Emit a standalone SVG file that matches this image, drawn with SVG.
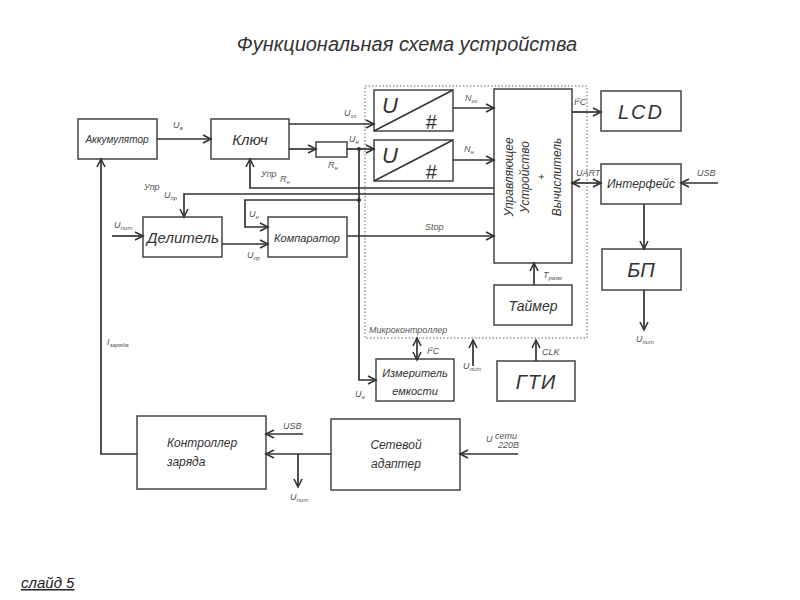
<svg xmlns="http://www.w3.org/2000/svg" width="800" height="600" viewBox="0 0 800 600">
<defs>
<marker id="ar" markerUnits="userSpaceOnUse" markerWidth="12" markerHeight="12" refX="9" refY="5" orient="auto-start-reverse">
<path d="M1,1 L9,5 L1,9" fill="none" stroke="#333" stroke-width="1.6"/>
</marker>
</defs>
<style>
.box{fill:#fff;stroke:#444;stroke-width:1.5}
.t{font-family:"Liberation Sans",Arial,sans-serif;font-style:italic;fill:#333;text-anchor:middle}
.lbl{font-family:"Liberation Sans",Arial,sans-serif;font-style:italic;fill:#555;font-size:9px}
.sub{font-size:6px}
.c{fill:none;stroke:#333;stroke-width:1.7}
.a{marker-end:url(#ar)}
.d{marker-start:url(#ar);marker-end:url(#ar)}
</style>
<rect width="800" height="600" fill="#fff"/>
<text x="407" y="51" class="t" font-size="20">Функциональная схема устройства</text>
<text x="21" y="588" font-family="Liberation Sans,Arial,sans-serif" font-style="italic" font-size="15" fill="#222" text-decoration="underline">слайд 5</text>

<rect id="mc" x="365" y="86" width="222" height="252" fill="none" stroke="#999" stroke-width="1.5" stroke-dasharray="1.5,2"/>
<text x="369" y="333" class="lbl" font-size="10">Микроконтроллер</text>

<g id="akk"><rect class="box" x="78" y="119" width="79" height="40"/><text class="t" x="117" y="143" font-size="10">Аккумулятор</text></g>
<g id="key"><rect class="box" x="211" y="119" width="78" height="40"/><text class="t" x="250" y="145" font-size="15">Ключ</text></g>
<g id="rn"><rect class="box" x="316" y="142" width="31" height="15"/></g>
<g id="del"><rect class="box" x="143" y="217" width="79" height="40"/><text class="t" x="183" y="243" font-size="15">Делитель</text></g>
<g id="comp"><rect class="box" x="268" y="217" width="79" height="40"/><text class="t" x="307" y="242" font-size="11">Компаратор</text></g>
<g id="adc1"><rect class="box" x="374" y="90" width="79" height="41"/><line x1="374" y1="131" x2="453" y2="90" stroke="#333" stroke-width="1.5"/><text class="t" x="390" y="113" font-size="22">U</text><text class="t" x="431" y="129" font-size="20">#</text></g>
<g id="adc2"><rect class="box" x="374" y="140" width="79" height="41"/><line x1="374" y1="181" x2="453" y2="140" stroke="#333" stroke-width="1.5"/><text class="t" x="390" y="163" font-size="22">U</text><text class="t" x="431" y="179" font-size="20">#</text></g>
<g id="cpu"><rect class="box" x="494" y="89" width="78" height="174"/>
<g transform="translate(533,177) rotate(-90)"><text class="t" x="0" y="-20" font-size="12">Управляющее</text><text class="t" x="0" y="-4" font-size="12">Устройство</text><text class="t" x="0" y="12" font-size="10">+</text><text class="t" x="0" y="28" font-size="12">Вычислитель</text></g></g>
<g id="timer"><rect class="box" x="494" y="285" width="78" height="40"/><text class="t" x="533" y="311" font-size="14">Таймер</text></g>
<g id="lcd"><rect class="box" x="601" y="91" width="80" height="40"/><text class="t" x="641" y="119" font-size="20" letter-spacing="2">LCD</text></g>
<g id="intf"><rect class="box" x="601" y="164" width="80" height="40"/><text class="t" x="641" y="188" font-size="12">Интерфейс</text></g>
<g id="bp"><rect class="box" x="602" y="249" width="79" height="41"/><text class="t" x="641" y="277" font-size="20">БП</text></g>
<g id="meas"><rect class="box" x="376" y="359" width="78" height="42"/><text class="t" x="415" y="377" font-size="11">Измеритель</text><text class="t" x="415" y="395" font-size="11">емкости</text></g>
<g id="gti"><rect class="box" x="497" y="361" width="78" height="40"/><text class="t" x="536" y="389" font-size="20" letter-spacing="1">ГТИ</text></g>
<g id="charger"><rect class="box" x="137" y="416" width="129" height="73"/><text class="t" x="167" y="447" font-size="12" style="text-anchor:start">Контроллер</text><text class="t" x="167" y="466" font-size="12" style="text-anchor:start">заряда</text></g>
<g id="adapter"><rect class="box" x="331" y="419" width="129" height="71"/><text class="t" x="396" y="449" font-size="12">Сетевой</text><text class="t" x="396" y="468" font-size="12">адаптер</text></g>

<g id="connectors">
<path class="c a" d="M157,139 H211"/>
<path class="c a" d="M289,124 H374"/>
<path class="c a" d="M289,149 H316"/>
<path class="c a" d="M347,149 H374"/>
<path class="c a" d="M359,149 V380 H376"/>
<path class="c a" d="M359,200 H245 V227 H268"/>
<path class="c a" d="M494,188 H250 V159"/>
<path class="c a" d="M494,194 H184 V217"/>
<path class="c a" d="M222,244 H268"/>
<path class="c a" d="M112,236 H143"/>
<path class="c a" d="M347,236 H494"/>
<path class="c a" d="M453,108 H494"/>
<path class="c a" d="M453,160 H494"/>
<path class="c a" d="M572,112 H601"/>
<path class="c d" d="M572,183 H601"/>
<path class="c a" d="M718,183 H681"/>
<path class="c a" d="M644,204 V249"/>
<path class="c a" d="M644,290 V330"/>
<path class="c a" d="M534,285 V263"/>
<path class="c d" d="M417,360 V338"/>
<path class="c a" d="M473,366 V340"/>
<path class="c a" d="M536,361 V340"/>
<path class="c a" d="M137,454 H101 V159"/>
<path class="c a" d="M331,454 H266"/>
<path class="c a" d="M298,454 V487"/>
<path class="c a" d="M303,434 H266"/>
<path class="c a" d="M518,454 H460"/>
<circle cx="359" cy="149" r="2" fill="#333"/>
<circle cx="359" cy="200" r="2" fill="#333"/>
</g>

<g id="labels">
<text class="lbl" x="173" y="128">U<tspan class="sub" dy="2">а</tspan></text>
<text class="lbl" x="344" y="116">U<tspan class="sub" dy="2">хх</tspan></text>
<text class="lbl" x="349" y="142">U<tspan class="sub" dy="2">н</tspan></text>
<text class="lbl" x="328" y="168">R<tspan class="sub" dy="2">н</tspan></text>
<text class="lbl" x="261" y="177">Упр</text>
<text class="lbl" x="280" y="182">R<tspan class="sub" dy="2">н</tspan></text>
<text class="lbl" x="144" y="190">Упр</text>
<text class="lbl" x="164" y="198">U<tspan class="sub" dy="2">пр</tspan></text>
<text class="lbl" x="249" y="217">U<tspan class="sub" dy="2">н</tspan></text>
<text class="lbl" x="114" y="228">U<tspan class="sub" dy="2">пит</tspan></text>
<text class="lbl" x="247" y="258">U<tspan class="sub" dy="2">пр</tspan></text>
<text class="lbl" x="425" y="230" font-size="8">Stop</text>
<text class="lbl" x="465" y="101">N<tspan class="sub" dy="2">хх</tspan></text>
<text class="lbl" x="464" y="152">N<tspan class="sub" dy="2">н</tspan></text>
<text class="lbl" x="574" y="105" font-size="8">I<tspan class="sub" dy="-3">2</tspan><tspan dy="3">C</tspan></text>
<text class="lbl" x="576" y="176" font-size="8">UART</text>
<text class="lbl" x="697" y="176" font-size="10">USB</text>
<text class="lbl" x="543" y="278">T<tspan class="sub" dy="2">разм</tspan></text>
<text class="lbl" x="636" y="342">U<tspan class="sub" dy="2">пит</tspan></text>
<text class="lbl" x="427" y="354" font-size="8">I<tspan class="sub" dy="-3">2</tspan><tspan dy="3">C</tspan></text>
<text class="lbl" x="463" y="369">U<tspan class="sub" dy="2">пит</tspan></text>
<text class="lbl" x="542" y="355" font-size="8">CLK</text>
<text class="lbl" x="355" y="397">U<tspan class="sub" dy="2">н</tspan></text>
<text class="lbl" x="107" y="345">I<tspan class="sub" dy="2" font-size="8">заряда</tspan></text>
<text class="lbl" x="283" y="429" font-size="10">USB</text>
<text class="lbl" x="290" y="500">U<tspan class="sub" dy="2">пит</tspan></text>
<text class="lbl" x="486" y="442" font-size="11">U</text>
<text class="lbl" x="495" y="439" font-size="6">сети</text>
<text class="lbl" x="498" y="448" font-size="6">220В</text>
</g>
</svg>
